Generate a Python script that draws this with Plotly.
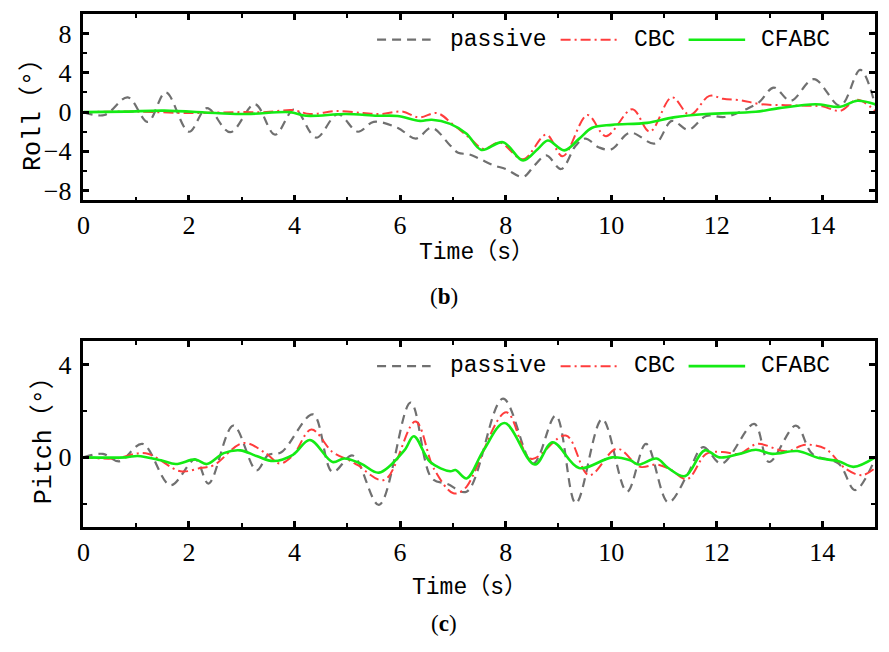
import plotly.graph_objects as go

W, H = 889, 652

# ---------------- data ----------------
roll_passive_t = [0, 0.4, 0.84, 1.22, 1.56, 2.0, 2.34, 2.78, 3.25, 3.63, 4.0, 4.41, 4.82, 5.2, 5.5, 5.95,
                  6.3, 6.6, 6.95, 7.1, 7.3, 7.5, 7.76, 8.0, 8.33, 8.55, 8.77, 9.05, 9.33, 9.51, 9.77, 10.0,
                  10.36, 10.83, 11.15, 11.46, 11.8, 12.15, 12.56, 12.8, 13.08, 13.4, 13.84, 14.34, 14.72, 15.0]
roll_passive = [0, -0.3, 1.5, -1.0, 2.0, -2.0, 0.4, -2.05, 0.8, -2.3, 0.3, -2.6, -0.2, -2.0, -1.0, -1.6,
                -2.7, -1.6, -3.4, -4.15, -4.3, -4.75, -5.4, -5.8, -6.6, -5.4, -4.4, -5.8, -3.4, -2.7, -3.6, -3.8,
                -2.1, -3.2, -0.9, -1.8, -0.4, -0.5, 0.3, 1.0, 2.5, 1.15, 3.35, 0.65, 4.3, 0.7]

roll_cbc_t = [0, 1.0, 2.0, 2.5, 3.0, 3.47, 3.97, 4.29, 4.79, 5.3, 5.63, 6.04, 6.36, 6.7, 7.01, 7.33, 7.58,
              7.89, 8.33, 8.77, 9.08, 9.55, 9.9, 10.4, 10.73, 11.15, 11.49, 11.86, 12.12, 12.46, 12.84,
              13.3, 13.7, 14.0, 14.34, 14.66, 15.0]
roll_cbc = [0, 0.05, -0.1, -0.05, 0.0, 0.0, 0.2, -0.2, 0.1, -0.1, -0.2, 0.05, -0.55, -0.1, -1.3, -2.7, -3.75,
            -3.1, -4.8, -2.3, -4.5, -0.3, -2.45, 0.3, -2.0, 1.5, -0.3, 1.65, 1.35, 1.2, 0.8,
            0.7, 0.65, 0.58, 0.13, 1.25, 0.1]

roll_cfabc_t = [0, 0.8, 1.53, 2.5, 3.1, 3.91, 4.22, 4.97, 5.57, 5.95, 6.38, 6.6, 6.95, 7.26, 7.54, 7.95,
                8.33, 8.61, 8.8, 9.11, 9.39, 9.64, 10.02, 10.68, 11.18, 11.8, 12.74, 13.18, 13.87, 14.34,
                14.66, 15.0]
roll_cfabc = [0, 0.05, 0.15, -0.1, -0.2, 0.0, -0.37, -0.2, -0.37, -0.4, -0.9, -0.78, -1.2, -2.2, -3.85, -3.07,
              -4.93, -3.75, -2.9, -3.9, -2.73, -1.6, -1.3, -1.1, -0.54, -0.2, 0.03, 0.4, 0.8, 0.54,
              1.15, 0.8]

pitch_passive_t = [0, 0.37, 0.68, 1.12, 1.65, 2.12, 2.37, 2.84, 3.28, 3.5, 3.75, 4.35, 4.72, 5.1, 5.6, 6.2,
                   6.6, 6.9, 7.26, 7.95, 8.52, 8.95, 9.33, 9.83, 10.3, 10.66, 11.08, 11.44, 11.74, 12.09,
                   12.71, 12.99, 13.5, 13.81, 14.31, 14.62, 15.0]
pitch_passive = [0, 0.15, -0.17, 0.58, -1.2, -0.09, -1.13, 1.37, -0.56, 0.1, 0.22, 1.85, -0.63, 0.08, -2.05, 2.36,
                 -0.9, -1.15, -1.48, 2.53, -0.27, 1.8, -1.98, 1.65, -1.48, 0.58, -1.94, -0.77, 0.44, -0.27,
                 1.44, -0.2, 1.37, 0.15, -0.27, -1.41, -0.06]

pitch_cbc_t = [0, 0.6, 1.18, 1.84, 2.22, 2.47, 3.03, 3.47, 3.72, 3.97, 4.32, 4.72, 5.04, 5.2, 5.7, 6.29,
               6.64, 7.01, 7.23, 8.01, 8.48, 9.14, 9.58, 10.11, 10.55, 10.86, 11.11, 11.44, 11.8, 12.11,
               12.43, 12.77, 13.31, 13.68, 14.06, 14.44, 14.75, 15.0]
pitch_cbc = [0, -0.05, 0.18, -0.6, -0.46, -0.34, 0.62, 0.15, -0.27, 0.08, 1.2, 0.23, -0.13, -0.34, -0.98, 1.54,
             -0.49, -1.55, -1.34, 1.94, -0.06, 0.94, -0.77, 0.37, -0.41, -0.31, -0.51, -0.94, 0.15, 0.23,
             0.15, 0.58, 0.26, 0.54, 0.37, -0.49, -0.77, -0.46]

pitch_cfabc_t = [0, 0.8, 1.03, 1.47, 1.75, 2.12, 2.34, 2.66, 2.97, 3.28, 3.6, 3.97, 4.29, 4.72, 4.94, 5.26,
                 5.6, 6.08, 6.26, 6.57, 6.95, 7.05, 7.26, 7.58, 7.98, 8.55, 8.89, 9.39, 10.02, 10.36, 10.52,
                 10.86, 11.08, 11.4, 11.77, 12.05, 12.43, 12.74, 13.05, 13.53, 13.93, 14.31, 14.59, 15.0]
pitch_cfabc = [0, 0.0, 0.06, -0.13, -0.29, -0.09, -0.29, 0.18, 0.3, 0.06, -0.16, 0.11, 0.75, -0.2, -0.05, -0.27,
               -0.66, 0.3, 0.91, -0.2, -0.6, -0.55, -0.91, 0.3, 1.48, -0.31, 0.65, -0.46, 0.0, -0.13, -0.31,
               -0.05, -0.46, -0.81, 0.3, 0.0, 0.15, 0.33, 0.15, 0.27, -0.03, -0.17, -0.41, 0.0]

series_names = ["passive", "CBC", "CFABC"]
x_ticks = [0, 2, 4, 6, 8, 10, 12, 14]
roll_ticks = [-8, -4, 0, 4, 8]
pitch_ticks = [0, 4]

# ---------------- styles ----------------
GRAY = "rgb(112,112,112)"
RED = "rgb(255,60,60)"
GREEN = "rgb(20,235,20)"
styles = [
    dict(color=GRAY, width=2.2, dash="9px,6px"),
    dict(color=RED, width=2.0, dash="10px,4px,2px,4px"),
    dict(color=GREEN, width=2.6, dash="solid"),
]
TICKFONT = dict(family="Liberation Serif", size=26, color="black")
TXTFONT = dict(family="Liberation Mono, Noto Sans CJK SC", size=23, color="black")
TITLEFONT = dict(family="Liberation Mono, Noto Sans CJK SC", size=25, color="black")


def px(x):
    return x / W


def py(y):
    return 1 - y / H


fig = go.Figure()

panels = [
    ("x", "y", [(roll_passive_t, roll_passive), (roll_cbc_t, roll_cbc), (roll_cfabc_t, roll_cfabc)]),
    ("x2", "y2", [(pitch_passive_t, pitch_passive), (pitch_cbc_t, pitch_cbc), (pitch_cfabc_t, pitch_cfabc)]),
]
for xa, ya, data in panels:
    for (t, v), name, st in zip(data, series_names, styles):
        fig.add_trace(go.Scatter(x=t, y=v, mode="lines", name=name, showlegend=False,
                                 line=dict(color=st["color"], width=st["width"], dash=st["dash"],
                                           shape="spline", smoothing=1.0),
                                 xaxis=xa, yaxis=ya))

axis_common = dict(showgrid=False, zeroline=False, showline=True, linecolor="black", linewidth=2.5,
                   mirror="allticks", ticks="inside", ticklen=6, tickwidth=2.5, tickcolor="black",
                   tickfont=TICKFONT)
xdom = [px(77), px(875)]
fig.update_layout(
    width=W, height=H, margin=dict(l=0, r=0, t=0, b=0),
    paper_bgcolor="white", plot_bgcolor="white",
    xaxis=dict(domain=xdom, range=[0, 15], tickvals=x_ticks, anchor="y", ticklabelstandoff=0,
               minor=dict(dtick=1, ticks="inside", ticklen=4, tickwidth=2, tickcolor="black"),
               **axis_common),
    yaxis=dict(domain=[py(202), py(14)], range=[-9, 10], tickvals=roll_ticks, anchor="x",
               ticklabelstandoff=4,
               minor=dict(dtick=2, ticks="inside", ticklen=4, tickwidth=2, tickcolor="black"),
               **axis_common),
    xaxis2=dict(domain=xdom, range=[0, 15], tickvals=x_ticks, anchor="y2", ticklabelstandoff=0,
                minor=dict(dtick=1, ticks="inside", ticklen=4, tickwidth=2, tickcolor="black"),
                **axis_common),
    yaxis2=dict(domain=[py(531), py(344)], range=[-3, 5], tickvals=pitch_ticks, anchor="x2",
                ticklabelstandoff=4,
                minor=dict(dtick=2, ticks="inside", ticklen=4, tickwidth=2, tickcolor="black"),
                **axis_common),
)

annotations = []
shapes = []
# axis titles
annotations.append(dict(text="Roll（°）", x=px(26), y=py(109), xref="paper", yref="paper",
                        textangle=-90, showarrow=False, font=TITLEFONT, xanchor="center", yanchor="middle"))
annotations.append(dict(text="Pitch（°）", x=px(37), y=py(438), xref="paper", yref="paper",
                        textangle=-90, showarrow=False, font=TITLEFONT, xanchor="center", yanchor="middle"))
annotations.append(dict(text="Time（s）", x=px(473), y=py(254), xref="paper", yref="paper",
                        showarrow=False, font=TXTFONT, xanchor="center", yanchor="middle"))
annotations.append(dict(text="Time（s）", x=px(466), y=py(592), xref="paper", yref="paper",
                        showarrow=False, font=TXTFONT, xanchor="center", yanchor="middle"))
# panel letters
annotations.append(dict(text="(<b>b</b>)", x=px(440), y=py(299), xref="paper", yref="paper",
                        showarrow=False, font=dict(family="Liberation Serif", size=23, color="black"),
                        xanchor="center", yanchor="middle"))
annotations.append(dict(text="(<b>c</b>)", x=px(440), y=py(628), xref="paper", yref="paper",
                        showarrow=False, font=dict(family="Liberation Serif", size=23, color="black"),
                        xanchor="center", yanchor="middle"))

# legends (manual, matching the reference layout)
leg_items = [(373, 427, 445), (558, 615, 630), (687, 744, 758)]
for ly in (40, 369):
    for (x0, x1, xt), name, st in zip(leg_items, series_names, styles):
        shapes.append(dict(type="line", xref="paper", yref="paper", x0=px(x0), x1=px(x1),
                           y0=py(ly), y1=py(ly),
                           line=dict(color=st["color"], width=st["width"], dash=st["dash"])))
        annotations.append(dict(text=name, x=px(xt), y=py(ly), xref="paper", yref="paper",
                                showarrow=False, font=TXTFONT, xanchor="left", yanchor="middle"))

fig.update_layout(annotations=annotations, shapes=shapes)
fig.write_html("out.html")
